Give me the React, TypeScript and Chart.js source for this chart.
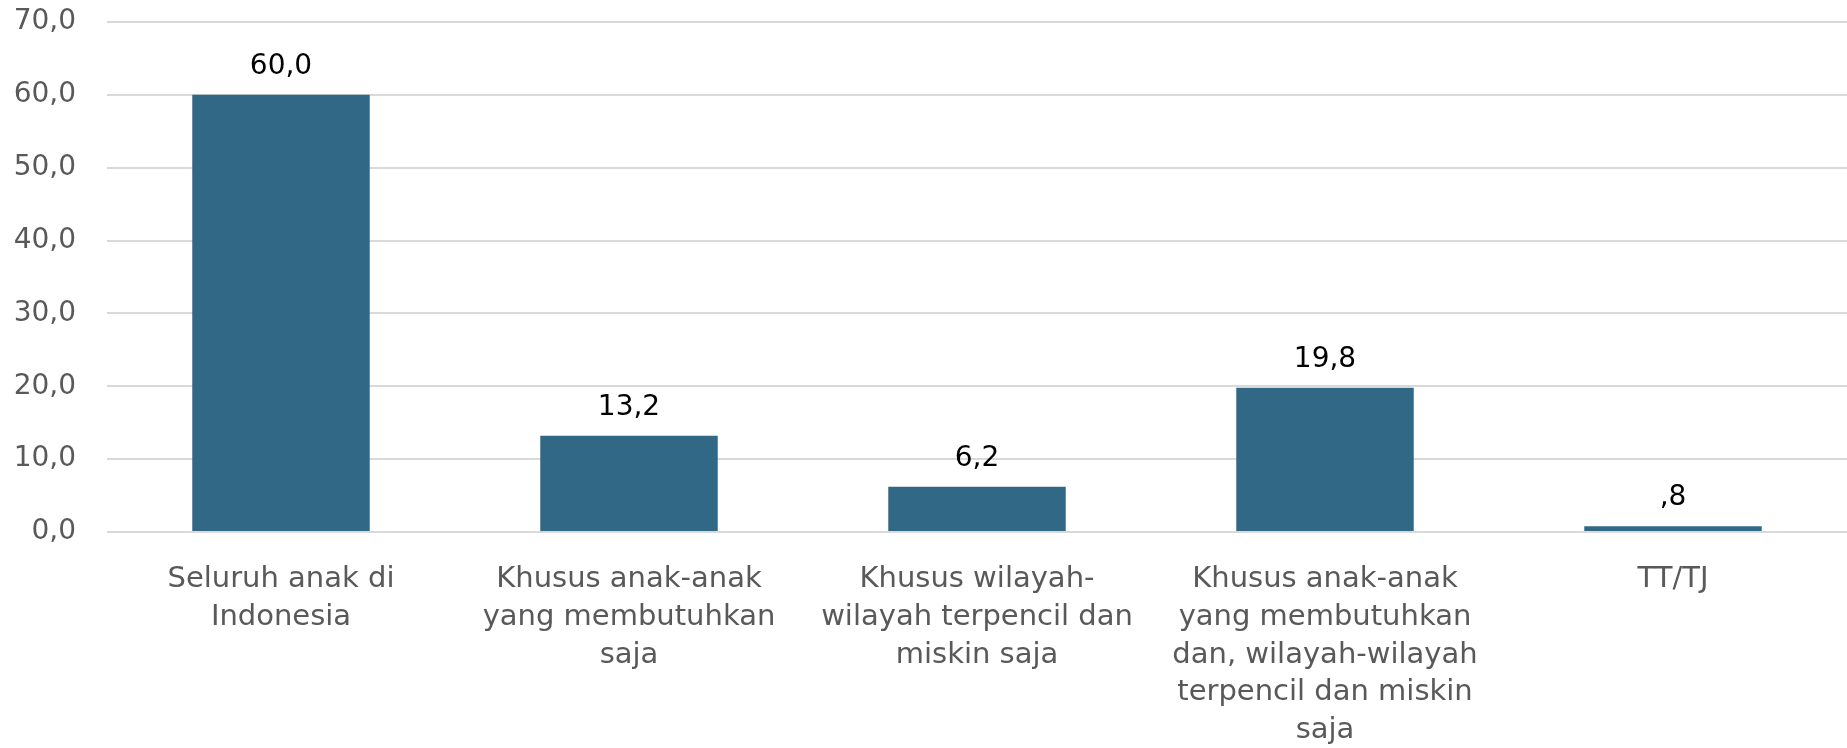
import React, { useEffect, useRef } from "react";
import { Chart, registerables } from "chart.js";

Chart.register(...registerables);

const categories: string[][] = [
  ["Seluruh anak di", "Indonesia"],
  ["Khusus anak-anak", "yang membutuhkan", "saja"],
  ["Khusus wilayah-", "wilayah terpencil dan", "miskin saja"],
  ["Khusus anak-anak", "yang membutuhkan", "dan, wilayah-wilayah", "terpencil dan miskin", "saja"],
  ["TT/TJ"],
];
const values: number[] = [60.0, 13.2, 6.2, 19.8, 0.8];
const yMin = 0;
const yMax = 70;
const yStep = 10;

const FONT = "'DejaVu Sans', sans-serif";

function fmtTick(v: number): string {
  return v.toFixed(1).replace(".", ",");
}
function fmtLabel(v: number): string {
  let s = v.toFixed(1).replace(".", ",");
  if (s.startsWith("0,")) s = s.slice(1);
  return s;
}

const valueLabels = {
  id: "valueLabels",
  afterDatasetsDraw(chart: any) {
    const { ctx } = chart;
    const meta = chart.getDatasetMeta(0);
    ctx.save();
    ctx.fillStyle = "#000000";
    ctx.font = `28px ${FONT}`;
    ctx.textAlign = "center";
    ctx.textBaseline = "middle";
    meta.data.forEach((bar: any, i: number) => {
      ctx.fillText(fmtLabel(values[i]), bar.x, bar.y - 28);
    });
    ctx.restore();
  },
};

export default function App() {
  const ref = useRef<HTMLCanvasElement | null>(null);
  useEffect(() => {
    document.body.style.margin = "0";
    if (!ref.current) return;
    const chart = new Chart(ref.current, {
      type: "bar",
      data: {
        labels: categories,
        datasets: [
          {
            data: values,
            backgroundColor: "#316885",
            categoryPercentage: 1,
            barPercentage: 0.51,
          },
        ],
      },
      options: {
        animation: false,
        responsive: false,
        maintainAspectRatio: false,
        layout: { padding: { top: 22, right: 0, left: 0, bottom: 0 } },
        plugins: { legend: { display: false }, tooltip: { enabled: false } },
        scales: {
          x: {
            grid: { display: false, drawTicks: false },
            border: { display: false },
            ticks: {
              color: "#595959",
              font: { family: FONT, size: 29, lineHeight: 1.3 },
              padding: 29,
              maxRotation: 0,
              autoSkip: false,
            },
            afterFit: (s: any) => {
              s.height = 216;
            },
          },
          y: {
            min: yMin,
            max: yMax,
            grid: {
              color: "#d9d9d9",
              lineWidth: 2,
              drawTicks: true,
              tickLength: 30,
              tickColor: "rgba(0,0,0,0)",
            },
            border: { display: false },
            ticks: {
              stepSize: yStep,
              color: "#595959",
              font: { family: FONT, size: 28 },
              padding: 1,
              callback: (v: any) => fmtTick(Number(v)),
            },
            afterFit: (s: any) => {
              s.width = 107;
            },
          },
        },
      },
      plugins: [valueLabels],
    });
    return () => chart.destroy();
  }, []);
  return <canvas ref={ref} width={1847} height={748} style={{ display: "block" }} />;
}
